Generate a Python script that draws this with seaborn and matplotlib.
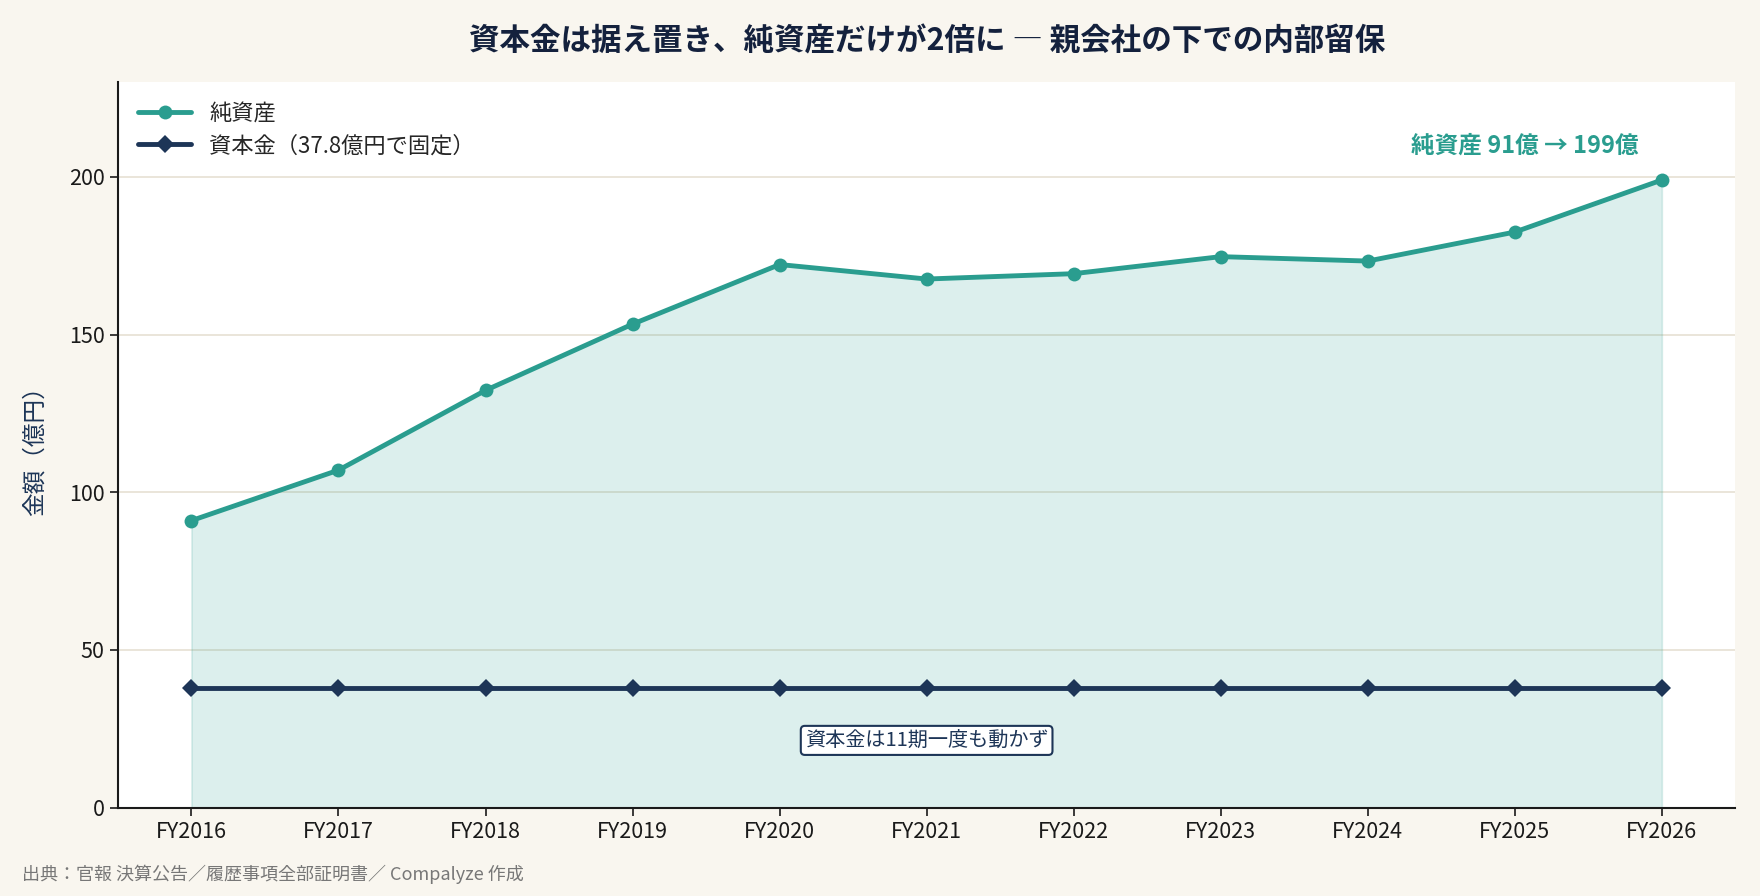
import pandas as pd
import matplotlib.pyplot as plt
import seaborn as sns

sns.set_theme(style="white")
plt.rcParams['font.family'] = ['Noto Sans CJK JP', 'DejaVu Sans']

# Data (億円)
years = ['FY2016', 'FY2017', 'FY2018', 'FY2019', 'FY2020', 'FY2021',
         'FY2022', 'FY2023', 'FY2024', 'FY2025', 'FY2026']
net_assets = [91, 107, 132.3, 153.3, 172.2, 167.6, 169.3, 174.7, 173.3, 182.5, 199]
capital = [37.8] * len(years)

teal = '#2a9d8f'
navy = '#1d3557'
bg = '#f9f6ef'

df = pd.DataFrame({'idx': range(len(years)), 'year': years,
                   'net': net_assets, 'cap': capital})

fig = plt.figure(figsize=(17.6, 8.96), dpi=100, facecolor=bg)
ax = fig.add_axes([0.067, 0.0987, 0.919, 0.8095])
ax.set_facecolor('white')

ax.fill_between(df['idx'], df['net'], color=teal, alpha=0.16, linewidth=1.2)
sns.lineplot(data=df, x='idx', y='net', ax=ax, color=teal, linewidth=3.5,
             marker='o', markersize=10, markeredgewidth=0, label='純資産')
sns.lineplot(data=df, x='idx', y='cap', ax=ax, color=navy, linewidth=3.5,
             marker='D', markersize=9, markeredgewidth=0, label='資本金（37.8億円で固定）')

ax.set_xlim(-0.5, 10.5)
ax.set_ylim(0, 230)
ax.set_xticks(df['idx'])
ax.set_xticklabels(years)
ax.set_yticks([0, 50, 100, 150, 200])
ax.tick_params(axis='both', labelsize=15.5, colors='#1a1a1a', length=6, width=1.2,
               bottom=True, left=True)
ax.set_xlabel('')
ax.set_ylabel('金額（億円）', fontsize=17, color=navy, labelpad=16)

ax.grid(axis='y', color='#e6e0d3', linewidth=1.2)
ax.grid(axis='x', visible=False)
ax.set_axisbelow(True)
sns.despine(ax=ax)
for s in ['left', 'bottom']:
    ax.spines[s].set_color('#1a1a1a')
    ax.spines[s].set_linewidth(1.5)

leg = ax.legend(loc='upper left', frameon=False, fontsize=16, handlelength=2.4,
                borderaxespad=0.5, labelspacing=0.4)

ax.text(9.07, 210, '純資産 91億 → 199億', color=teal, fontsize=17,
        fontweight='bold', ha='center', va='center')
ax.text(5, 21.3, '資本金は11期一度も動かず', color=navy, fontsize=14.5,
        ha='center', va='center',
        bbox=dict(boxstyle='round,pad=0.2', facecolor='white', edgecolor=navy,
                  linewidth=1.5))

fig.text(0.527, 0.954, '資本金は据え置き、純資産だけが2倍に ― 親会社の下での内部留保',
         fontsize=22, fontweight='bold', color='#14213d', ha='center', va='center')
fig.text(0.0125, 0.024, '出典：官報 決算公告／履歴事項全部証明書／ Compalyze 作成',
         fontsize=13, color='#777777', ha='left', va='center')

plt.savefig('out.png', dpi=100, facecolor=bg)
plt.close()
